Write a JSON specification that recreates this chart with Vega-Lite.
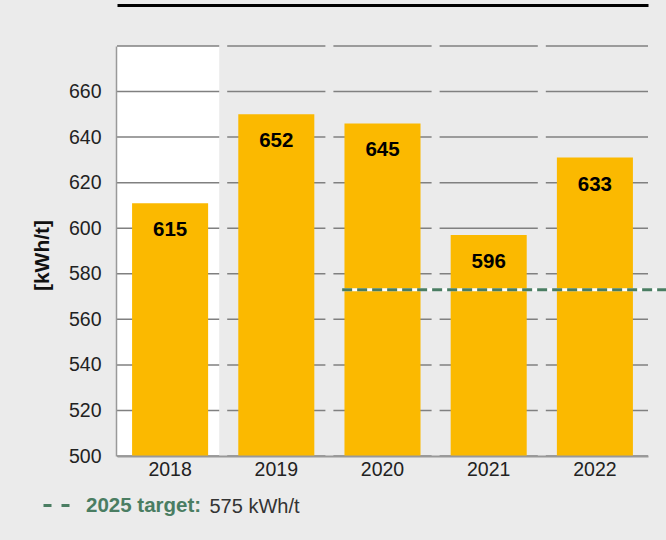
{
  "$schema": "https://vega.github.io/schema/vega-lite/v6.json",
  "width": 531,
  "height": 410,
  "autosize": {"type": "none"},
  "padding": {"left": 117, "top": 46, "right": 18, "bottom": 84},
  "background": "#ebebeb",
  "config": {"view": {"stroke": null}, "font": "Liberation Sans"},
  "datasets": {
    "energy": [
      {"year": "2018", "value": 611, "label": "615"},
      {"year": "2019", "value": 650, "label": "652"},
      {"year": "2020", "value": 646, "label": "645"},
      {"year": "2021", "value": 597, "label": "596"},
      {"year": "2022", "value": 631, "label": "633"}
    ],
    "highlight": [{"year": "2018"}],
    "gaps": [{"year": "2019"}, {"year": "2020"}, {"year": "2021"}, {"year": "2022"}],
    "grid": [{"v": 500}, {"v": 520}, {"v": 540}, {"v": 560}, {"v": 580}, {"v": 600}, {"v": 620}, {"v": 640}, {"v": 660}, {"v": 680}],
    "target": [{"start": "2020", "end": "2022", "value": 573, "name": "2025 target:"}]
  },
  "layer": [
    {
      "data": {"name": "highlight"},
      "mark": {"type": "bar", "color": "#ffffff", "width": {"band": 1}},
      "encoding": {
        "x": {"field": "year", "type": "nominal", "axis": {"orient": "top", "offset": 41, "domainColor": "#000000", "domainWidth": 3, "labels": false, "ticks": false, "title": null, "grid": false}},
        "y": {"datum": 680, "type": "quantitative"},
        "y2": {"datum": 500}
      }
    },
    {
      "data": {"name": "grid"},
      "mark": {"type": "rule", "color": "#808080", "strokeWidth": 1.5},
      "encoding": {
        "y": {"field": "v", "type": "quantitative"}
      }
    },
    {
      "data": {"name": "gaps"},
      "mark": {"type": "rule", "color": "#ebebeb", "strokeWidth": 8},
      "encoding": {
        "x": {"field": "year", "type": "nominal", "bandPosition": 0, "axis": null},
        "y": {"datum": 681, "type": "quantitative"},
        "y2": {"datum": 499}
      }
    },
    {
      "data": {"name": "energy"},
      "mark": {"type": "bar", "color": "#fbb900", "width": {"band": 0.716}},
      "encoding": {
        "x": {
          "field": "year", "type": "nominal", "sort": null,
          "scale": {"domain": ["2018", "2019", "2020", "2021", "2022"], "paddingInner": 0, "paddingOuter": 0},
          "axis": {"orient": "bottom", "title": "575 kWh/t", "titleFontSize": 20, "titleFontWeight": "normal", "titleColor": "#333333", "titleAnchor": null, "titleAlign": "left", "titleBaseline": "alphabetic", "titleX": 92, "titleY": 56, "labelAngle": 0, "labelFontSize": 19.5, "labelColor": "#222222", "labelPadding": 4, "ticks": false, "tickSize": 0, "domainColor": "#999999", "domainWidth": 2, "zindex": 1, "grid": false}
        },
        "y": {
          "field": "value", "type": "quantitative",
          "scale": {"domain": [500, 680], "nice": false, "zero": false},
          "axis": {"values": [500, 520, 540, 560, 580, 600, 620, 640, 660, 680], "labelExpr": "datum.value == 680 ? '' : datum.label", "grid": false, "ticks": false, "tickSize": 0, "labelPadding": 15, "labelFontSize": 19.5, "labelColor": "#222222", "domainColor": "#999999", "domainWidth": 1.5, "offset": 1, "zindex": 1, "title": "[kWh/t]", "titleFontSize": 21, "titleFontWeight": "bold", "titleColor": "#111111", "titlePadding": 16, "titleY": 209}
        },
        "y2": {"datum": 500}
      }
    },
    {
      "data": {"name": "energy"},
      "mark": {"type": "text", "baseline": "middle", "dy": 27, "fontSize": 20.5, "fontWeight": "bold", "color": "#000000"},
      "encoding": {
        "x": {"field": "year", "type": "nominal", "axis": null},
        "y": {"field": "value", "type": "quantitative"},
        "text": {"field": "label"}
      }
    },
    {
      "data": {"name": "target"},
      "mark": {"type": "rule", "color": "#ffffff", "strokeWidth": 3},
      "encoding": {
        "x": {"field": "start", "type": "nominal", "bandPosition": 0.12, "axis": null},
        "x2": {"field": "end", "bandPosition": 1.17},
        "y": {"field": "value", "type": "quantitative"}
      }
    },
    {
      "data": {"name": "target"},
      "mark": {"type": "rule", "strokeWidth": 3, "strokeDash": [10, 5]},
      "encoding": {
        "x": {"field": "start", "type": "nominal", "bandPosition": 0.12, "axis": null},
        "x2": {"field": "end", "bandPosition": 1.17},
        "y": {"field": "value", "type": "quantitative"},
        "stroke": {
          "field": "name", "type": "nominal",
          "scale": {"range": ["#4a7d62"]},
          "legend": {"orient": "none", "legendX": -75, "legendY": 445, "padding": 0, "title": null, "labelFontSize": 20.5, "labelFontWeight": "bold", "labelColor": "#4a7d62", "labelOffset": 15, "symbolType": "stroke", "symbolSize": 676, "symbolStrokeWidth": 3, "symbolDash": [8, 10], "symbolStrokeColor": "#4a7d62"}
        }
      }
    }
  ],
  "resolve": {"axis": {"x": "independent"}}
}
